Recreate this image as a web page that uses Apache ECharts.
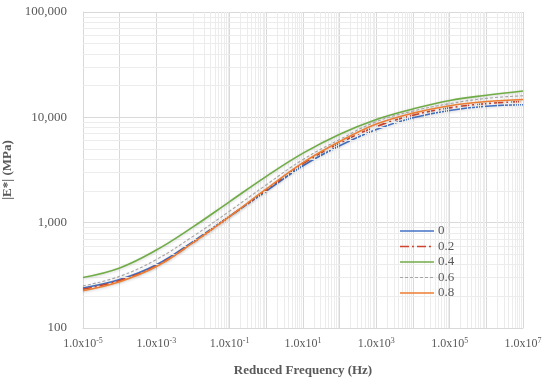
<!DOCTYPE html>
<html>
<head>
<meta charset="utf-8">
<script src="https://cdn.jsdelivr.net/npm/echarts@6/dist/echarts.min.js"></script>
<style>html,body{margin:0;padding:0;background:#fff}#c{width:550px;height:384px}</style>
</head>
<body>
<div id="c"></div>
<script>
// Reduced frequency (Hz)
const freq = [1e-5, 1e-4, 1e-3, 1e-2, 1e-1, 1e0, 1e1, 1e2, 1e3, 1e4, 1e5, 1e6, 1e7];
// |E*| (MPa) for each series
const names = ['0', '0.2', '0.4', '0.6', '0.8'];
const s0  = [240, 288, 398, 661, 1150, 1995, 3470, 5370, 7670, 9890, 11610, 12740, 13180];
const s02 = [234, 282, 389, 646, 1148, 2042, 3631, 5689, 8185, 10471, 12303, 13490, 14125];
const s04 = [302, 372, 550, 912, 1585, 2754, 4571, 6918, 9550, 12023, 14454, 16218, 17783];
const s06 = [251, 309, 447, 741, 1288, 2291, 3981, 6166, 9120, 11482, 13490, 15136, 16032];
const s08 = [226, 275, 383, 646, 1148, 2089, 3715, 5888, 8630, 10965, 12882, 14125, 14791];
// axis ranges
const xMin = 1e-5, xMax = 1e7;
const yMin = 100, yMax = 100000;

const FONT = '"Liberation Serif", "Times New Roman", serif';
const TXT = '#595959';

// minor gridline positions (2..9 within each decade)
const minorX = [];
for (let e = -5; e < 7; e++) for (let k = 2; k <= 9; k++) minorX.push({ xAxis: k * Math.pow(10, e) });
const minorY = [];
for (let e = 2; e < 5; e++) for (let k = 2; k <= 9; k++) minorY.push({ yAxis: k * Math.pow(10, e) });

const styles = [
  { color: '#4472C4', type: 'solid', width: 1.6 },
  { color: '#D0452F', type: [9, 3, 2, 3], width: 1.6 },
  { color: '#70AD47', type: 'solid', width: 1.6 },
  { color: '#A5A5A5', type: [3, 2], width: 1.1 },
  { color: '#ED7D31', type: 'solid', width: 1.6 }
];
const sets = [s0, s02, s04, s06, s08];

const series = [{
  type: 'line', name: '_grid', data: [], silent: true, z: 1,
  markLine: {
    silent: true, symbol: 'none', animation: false,
    label: { show: false },
    lineStyle: { color: '#ececec', width: 1, type: 'solid' },
    data: minorX.concat(minorY)
  }
}];
names.forEach((n, i) => {
  series.push({
    type: 'line', name: n, z: 3 + i,
    data: freq.map((f, j) => [f, sets[i][j]]),
    smooth: 0.4, symbol: 'none', animation: false,
    lineStyle: Object.assign({ shadowBlur: 3, shadowColor: 'rgba(0,0,0,0.18)', shadowOffsetY: 1 }, styles[i]),
    itemStyle: { color: styles[i].color }
  });
});

// legend (drawn as graphic items: sample line + label)
const legendItems = [];
names.forEach((n, i) => {
  const y = 231 + i * 15.5;
  const st = styles[i];
  legendItems.push({
    type: 'line', silent: true, z: 50,
    shape: { x1: 400, y1: y, x2: 434, y2: y },
    style: { stroke: st.color, lineWidth: st.width, lineDash: Array.isArray(st.type) ? st.type : null }
  });
  legendItems.push({
    type: 'text', silent: true, z: 50, x: 438, y: y,
    style: { text: n, fill: TXT, fontSize: 13, fontFamily: FONT, verticalAlign: 'middle', textVerticalAlign: 'middle', align: 'left' }
  });
});

const chart = echarts.init(document.getElementById('c'), null, { renderer: 'canvas' });
chart.setOption({
  animation: false,
  textStyle: { fontFamily: FONT },
  grid: { left: 83, right: 27, top: 12, bottom: 56, containLabel: false, outerBoundsMode: 'none' },
  graphic: { elements: legendItems },
  xAxis: {
    type: 'log', logBase: 10, min: xMin, max: xMax, interval: 1,
    name: 'Reduced Frequency (Hz)', nameLocation: 'middle', nameGap: 36,
    nameTextStyle: { fontFamily: FONT, fontSize: 13, fontWeight: 'bold', color: TXT },
    axisLine: { show: true, lineStyle: { color: '#d9d9d9' } },
    axisTick: { show: false },
    splitLine: { show: true, lineStyle: { color: '#d9d9d9' } },
    axisLabel: {
      margin: 9, color: TXT, fontFamily: FONT, showMinLabel: true, showMaxLabel: true,
      formatter: function (v) {
        const e = Math.round(Math.log10(v));
        if (Math.abs(e % 2) !== 1) return '';
        return '{n|1.0x10}{s|' + e + '}';
      },
      rich: {
        n: { fontSize: 12, color: TXT, fontFamily: FONT },
        s: { fontSize: 8, color: TXT, fontFamily: FONT, padding: [0, 0, 6, 0] }
      }
    }
  },
  yAxis: {
    type: 'log', logBase: 10, min: yMin, max: yMax, interval: 1,
    name: '|E*| (MPa)', nameLocation: 'middle', nameGap: 67,
    nameTextStyle: { fontFamily: FONT, fontSize: 13, fontWeight: 'bold', color: TXT },
    axisLine: { show: true, lineStyle: { color: '#d9d9d9' } },
    axisTick: { show: false },
    splitLine: { show: true, lineStyle: { color: '#d9d9d9' } },
    axisLabel: {
      margin: 16, color: TXT, fontFamily: FONT, fontSize: 13,
      formatter: function (v) { return Math.round(v).toLocaleString('en-US'); }
    }
  },
  series: series
});
</script>
</body>
</html>
